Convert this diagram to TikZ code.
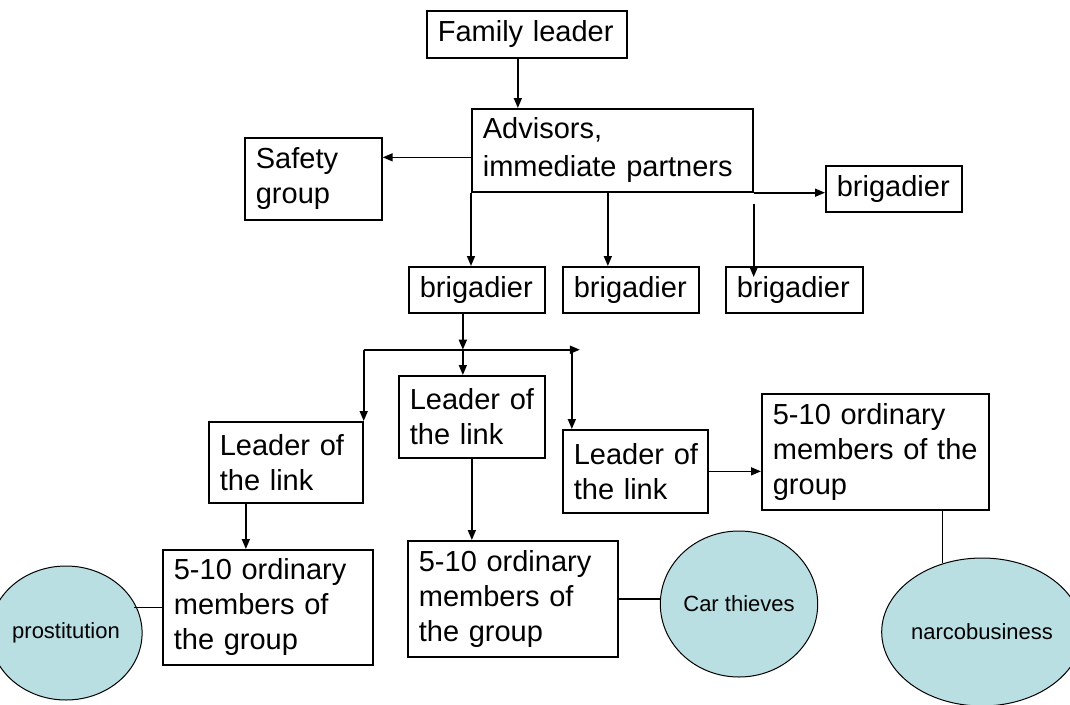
\documentclass[tikz,border=0pt]{standalone}
\usepackage{fontspec}
\setmainfont{Liberation Sans}
\usetikzlibrary{arrows.meta}
\usetikzlibrary{shapes.geometric}

\definecolor{blobfill}{RGB}{185,223,227}

\tikzset{
  block/.style={draw, line width=1.7pt, anchor=north west, align=left,
    inner xsep=11pt, inner ysep=0pt, font=\fontsize{29}{35}\selectfont},
  blob/.style={ellipse, draw, line width=1pt, fill=blobfill, inner sep=0pt,
    font=\fontsize{22}{26}\selectfont},
  arr/.style={line width=1.6pt, -{Triangle[length=10pt,width=8pt]}},
  link/.style={line width=1.6pt}
}

\begin{document}
\begin{tikzpicture}[x=1pt, y=-1pt]
    \useasboundingbox (0,0) rectangle (1070,704);

    % top of the family
    \node[block, minimum width=200, minimum height=47, text width=178] (fam) at (426,10) {Family~leader};
    \node[block, minimum width=281, minimum height=83, text width=259,
          font=\fontsize{29}{38}\selectfont] (adv) at (471,108) {Advisors,\\immediate~partners};
    \node[block, minimum width=137, minimum height=82, text width=115] (safety) at (244,137) {Safety\\group};

    % brigadiers
    \node[block, minimum width=136, minimum height=46, text width=114] (brigR) at (825,165) {brigadier};
    \node[block, minimum width=136, minimum height=46, text width=114] (brig1) at (408,266) {brigadier};
    \node[block, minimum width=136, minimum height=46, text width=114] (brig2) at (562,266) {brigadier};
    \node[block, minimum width=137, minimum height=46, text width=115] (brig3) at (725,266) {brigadier};

    % leaders of the links
    \node[block, minimum width=154, minimum height=81, text width=132] (lead1) at (208,421) {Leader~of\\the~link};
    \node[block, minimum width=146, minimum height=82, text width=124] (lead2) at (398,375) {Leader~of\\the~link};
    \node[block, minimum width=145, minimum height=83, text width=123] (lead3) at (562,429) {Leader~of\\the~link};

    % ordinary members
    \node[block, minimum width=210, minimum height=115, text width=188] (lmem) at (162,549) {5-10~ordinary\\members~of\\the~group};
    \node[block, minimum width=210, minimum height=116, text width=188] (mmem) at (407,540) {5-10~ordinary\\members~of\\the~group};
    \node[block, minimum width=227, minimum height=116, text width=205] (rmem) at (761,393) {5-10~ordinary\\members~of~the\\group};

    % businesses
    \node[blob, minimum width=116, minimum height=134] (prost) at (66,633) {prostitution};
    \node[blob, minimum width=136, minimum height=146] (carth) at (739,604) {Car thieves};
    \node[blob, minimum width=188, minimum height=148] (narco) at (982,632) {narcobusiness};

    \coordinate (hub) at ([xshift=-14pt,yshift=-36pt]brig1.south);
    \coordinate (hubend) at ([xshift=117pt]hub);

    \draw[arr] ([xshift=-9pt]fam.south) -- ([xshift=-9pt]fam.south |- adv.north);
    \draw[arr] ([yshift=-7pt]adv.west) -- ([yshift=-7pt]adv.west -| safety.east);
    \draw[arr] (adv.south east) -- (adv.south east -| brigR.west);
    \draw[arr] (adv.south west) -- (adv.south west |- brig1.north);
    \draw[arr] ([xshift=-4.5pt]adv.south) -- ([xshift=-4.5pt]adv.south |- brig2.north);
    \draw[arr] ([yshift=-11pt]adv.south east) -- ([yshift=-11pt]adv.south east |- brig3.north);

    \draw[arr] ([xshift=-14pt]brig1.south) -- (hub);
    \draw[arr] (hub) -- (hub |- lead2.north);
    \draw[arr] (hub -| lead1.north east) -- (hubend);
    \draw[arr] (hub -| lead1.north east) -- (lead1.north east);
    \draw[arr] ([xshift=-8pt]hubend) -- ([xshift=-8pt]hubend |- lead3.north);

    \draw[arr] ([xshift=-40pt]lead1.south) -- ([xshift=-40pt]lead1.south |- lmem.north);
    \draw[arr] (lead2.south) -- (lead2.south |- mmem.north);
    \draw[arr] (lead3.east) -- (lead3.east -| rmem.west);

    \draw[link] (lmem.west) -- (lmem.west -| prost.25);
    \draw[link] (mmem.east) -- (mmem.east -| carth.west);
    \draw[link] (narco.120) -- (narco.120 |- rmem.south);
\end{tikzpicture}
\end{document}
